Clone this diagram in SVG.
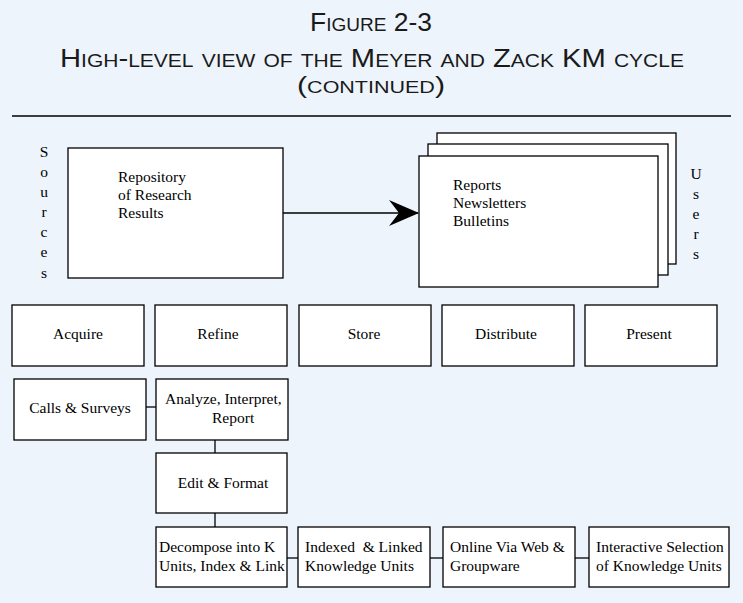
<svg xmlns="http://www.w3.org/2000/svg" width="743" height="603" viewBox="0 0 743 603">
<defs>
<style>
.bg{fill:#EDF4FB}
.box{fill:#fff;stroke:#000;stroke-width:1.3}
.t{font-family:"Liberation Serif","Times New Roman",serif;font-size:15.5px;fill:#000}
.c{text-anchor:middle}
.ttl{font-family:"Liberation Sans",Arial,sans-serif;font-variant:small-caps;fill:#1a1a1a;text-anchor:middle}
.ln{stroke:#000;stroke-width:1.3;fill:none}
</style>
<marker id="ah" viewBox="0 0 30 26" refX="29" refY="13" markerWidth="30" markerHeight="26" markerUnits="userSpaceOnUse" orient="auto">
<path d="M0,0 L30,13 L0,26 L10,13 Z" fill="#000"/>
</marker>
</defs>
<rect class="bg" x="0" y="0" width="743" height="603"/>
<g id="title">
<text class="ttl" x="371" y="31" font-size="25" textLength="122" lengthAdjust="spacingAndGlyphs">Figure 2-3</text>
<text class="ttl" x="372" y="67" font-size="25" textLength="624" lengthAdjust="spacingAndGlyphs">High-level view of the Meyer and Zack KM cycle</text>
<text class="ttl" x="371" y="93" font-size="24" textLength="148" lengthAdjust="spacingAndGlyphs">(continued)</text>
<line x1="12" y1="116" x2="731" y2="116" stroke="#000" stroke-width="1.5"/>
</g>
<g id="sources">
<text class="t c" x="44"><tspan x="44" y="157">S</tspan><tspan x="44" y="177">o</tspan><tspan x="44" y="197">u</tspan><tspan x="44" y="217">r</tspan><tspan x="44" y="237">c</tspan><tspan x="44" y="257">e</tspan><tspan x="44" y="278">s</tspan></text>
</g>
<g id="users">
<text class="t c" x="696"><tspan x="696" y="179">U</tspan><tspan x="696" y="199">s</tspan><tspan x="696" y="219">e</tspan><tspan x="696" y="239">r</tspan><tspan x="696" y="259">s</tspan></text>
</g>
<g id="connectors">
<line class="ln" x1="283" y1="213" x2="418" y2="213" marker-end="url(#ah)"/>
<line class="ln" x1="146" y1="407" x2="156" y2="407"/>
<line class="ln" x1="215" y1="440" x2="215" y2="453"/>
<line class="ln" x1="215" y1="513" x2="215" y2="527"/>
<line class="ln" x1="287" y1="558" x2="298" y2="558"/>
<line class="ln" x1="430" y1="558" x2="443" y2="558"/>
<line class="ln" x1="575" y1="558" x2="589" y2="558"/>
</g>
<g id="repository">
<rect class="box" x="68" y="148" width="215" height="130"/>
<text class="t"><tspan x="118" y="182">Repository</tspan><tspan x="118" y="200">of Research</tspan><tspan x="118" y="218">Results</tspan></text>
</g>
<g id="reports">
<rect class="box" x="437" y="133" width="239" height="131"/>
<rect class="box" x="428" y="144" width="240" height="131"/>
<rect class="box" x="419" y="156" width="239" height="131"/>
<text class="t"><tspan x="453" y="190">Reports</tspan><tspan x="453" y="208">Newsletters</tspan><tspan x="453" y="226">Bulletins</tspan></text>
</g>
<g id="acquire">
<rect class="box" x="12" y="305" width="132" height="61"/>
<text class="t c" x="78" y="339">Acquire</text>
</g>
<g id="refine">
<rect class="box" x="155" y="305" width="132" height="61"/>
<text class="t c" x="218" y="339">Refine</text>
</g>
<g id="store">
<rect class="box" x="299" y="305" width="132" height="61"/>
<text class="t c" x="364" y="339">Store</text>
</g>
<g id="distribute">
<rect class="box" x="442" y="305" width="132" height="61"/>
<text class="t c" x="506" y="339">Distribute</text>
</g>
<g id="present">
<rect class="box" x="585" y="305" width="132" height="61"/>
<text class="t c" x="649" y="339">Present</text>
</g>
<g id="calls">
<rect class="box" x="14" y="379" width="132" height="61"/>
<text class="t c" x="80" y="413">Calls &amp; Surveys</text>
</g>
<g id="analyze">
<rect class="box" x="156" y="379" width="132" height="61"/>
<text class="t"><tspan x="165" y="404">Analyze, Interpret,</tspan><tspan x="212" y="423">Report</tspan></text>
</g>
<g id="edit">
<rect class="box" x="156" y="453" width="131" height="60"/>
<text class="t c" x="223" y="488">Edit &amp; Format</text>
</g>
<g id="decompose">
<rect class="box" x="156" y="527" width="131" height="60"/>
<text class="t"><tspan x="159" y="552">Decompose into K</tspan><tspan x="159" y="571">Units, Index &amp; Link</tspan></text>
</g>
<g id="indexed">
<rect class="box" x="298" y="527" width="132" height="60"/>
<text class="t" xml:space="preserve"><tspan x="305" y="552">Indexed  &amp; Linked</tspan><tspan x="305" y="571">Knowledge Units</tspan></text>
</g>
<g id="online">
<rect class="box" x="443" y="527" width="132" height="60"/>
<text class="t"><tspan x="450" y="552">Online Via Web &amp;</tspan><tspan x="450" y="571">Groupware</tspan></text>
</g>
<g id="interactive">
<rect class="box" x="589" y="527" width="140" height="60"/>
<text class="t"><tspan x="596" y="552">Interactive Selection</tspan><tspan x="596" y="571">of Knowledge Units</tspan></text>
</g>
</svg>
